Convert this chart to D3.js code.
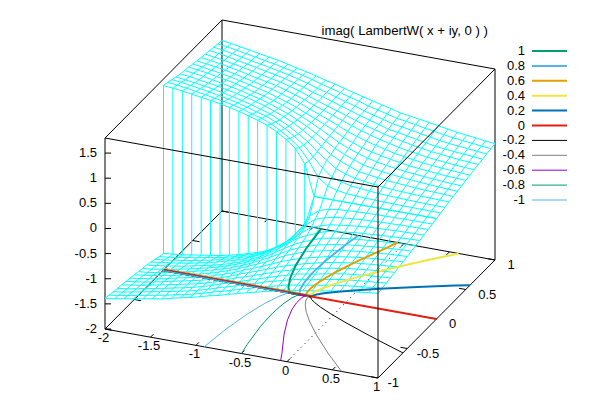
<!DOCTYPE html>
<html>
<head>
<meta charset="utf-8">
<script src="https://cdnjs.cloudflare.com/ajax/libs/d3/7.8.5/d3.min.js"></script>
<style>
  html, body { margin: 0; padding: 0; background: #fff; }
  text { font-family: "Liberation Sans", Arial, sans-serif; font-size: 13px; fill: #000; }
  .mesh { fill: none; stroke: #00ffff; stroke-width: 1; }
  .edge, .tick { fill: none; stroke: #000; stroke-width: 1; }
  .zero { fill: none; stroke: #000; stroke-width: 1; stroke-dasharray: 1 4; }
  .contour { fill: none; stroke-linejoin: round; }
</style>
</head>
<body>
<div id="chart"></div>
<script>
var xValues = [-2,-1.897,-1.793,-1.69,-1.586,-1.483,-1.379,-1.276,-1.172,-1.069,-0.966,-0.862,-0.759,-0.655,-0.552,-0.448,-0.345,-0.241,-0.138,-0.034,0.069,0.172,0.276,0.379,0.483,0.586,0.69,0.793,0.897,1]
// y = 0 is there twice, the sheet jumps between the two rows left of the branch point
var yValues = [-1,-0.929,-0.857,-0.786,-0.714,-0.643,-0.571,-0.5,-0.429,-0.357,-0.286,-0.214,-0.143,-0.071,0,0,0.071,0.143,0.214,0.286,0.357,0.429,0.5,0.571,0.643,0.714,0.786,0.857,0.929,1]

var zRows = [
  [-1.39,-1.365,-1.33,-1.3,-1.265,-1.23,-1.2,-1.155,-1.11,-1.07,-1.025,-0.97,-0.93,-0.875,-0.825,-0.775,-0.73,-0.68,-0.64,-0.585,-0.56,-0.53,-0.5,-0.47,-0.435,-0.405,-0.38,-0.36,-0.335,-0.315],
  [-1.408,-1.383,-1.348,-1.314,-1.279,-1.244,-1.211,-1.166,-1.131,-1.084,-1.036,-0.977,-0.93,-0.875,-0.821,-0.771,-0.709,-0.662,-0.619,-0.567,-0.538,-0.509,-0.471,-0.441,-0.406,-0.38,-0.359,-0.339,-0.317,-0.297],
  [-1.426,-1.4,-1.365,-1.328,-1.293,-1.258,-1.221,-1.181,-1.144,-1.094,-1.044,-0.98,-0.93,-0.873,-0.816,-0.762,-0.696,-0.646,-0.597,-0.543,-0.513,-0.483,-0.443,-0.411,-0.376,-0.353,-0.333,-0.315,-0.297,-0.277],
  [-1.443,-1.418,-1.384,-1.344,-1.309,-1.273,-1.233,-1.197,-1.153,-1.103,-1.051,-0.981,-0.929,-0.869,-0.809,-0.748,-0.687,-0.631,-0.576,-0.517,-0.486,-0.454,-0.414,-0.38,-0.346,-0.326,-0.306,-0.29,-0.275,-0.256],
  [-1.457,-1.428,-1.401,-1.361,-1.326,-1.287,-1.247,-1.207,-1.167,-1.117,-1.059,-0.989,-0.921,-0.861,-0.801,-0.737,-0.673,-0.609,-0.559,-0.503,-0.464,-0.426,-0.386,-0.355,-0.324,-0.304,-0.284,-0.265,-0.25,-0.234],
  [-1.471,-1.445,-1.419,-1.382,-1.344,-1.301,-1.261,-1.221,-1.181,-1.126,-1.066,-1.001,-0.926,-0.86,-0.794,-0.724,-0.653,-0.588,-0.535,-0.48,-0.437,-0.391,-0.357,-0.327,-0.297,-0.277,-0.257,-0.243,-0.228,-0.213],
  [-1.49,-1.465,-1.437,-1.404,-1.365,-1.32,-1.28,-1.237,-1.196,-1.136,-1.076,-1.013,-0.933,-0.86,-0.787,-0.708,-0.626,-0.559,-0.5,-0.447,-0.403,-0.356,-0.326,-0.296,-0.269,-0.249,-0.23,-0.219,-0.205,-0.191],
  [-1.51,-1.485,-1.455,-1.425,-1.39,-1.345,-1.3,-1.255,-1.21,-1.15,-1.09,-1.02,-0.94,-0.86,-0.78,-0.69,-0.59,-0.52,-0.45,-0.4,-0.36,-0.32,-0.29,-0.26,-0.24,-0.22,-0.205,-0.19,-0.18,-0.17],
  [-1.53,-1.51,-1.48,-1.445,-1.41,-1.37,-1.32,-1.27,-1.228,-1.17,-1.11,-1.035,-0.955,-0.865,-0.77,-0.67,-0.57,-0.485,-0.42,-0.36,-0.32,-0.285,-0.255,-0.23,-0.215,-0.195,-0.18,-0.165,-0.155,-0.145],
  [-1.55,-1.53,-1.5,-1.465,-1.43,-1.39,-1.35,-1.3,-1.255,-1.195,-1.13,-1.06,-0.97,-0.875,-0.77,-0.65,-0.54,-0.45,-0.38,-0.31,-0.275,-0.245,-0.22,-0.2,-0.185,-0.167,-0.154,-0.141,-0.132,-0.123],
  [-1.565,-1.545,-1.515,-1.485,-1.455,-1.415,-1.375,-1.335,-1.285,-1.23,-1.16,-1.085,-0.995,-0.885,-0.77,-0.63,-0.5,-0.405,-0.33,-0.26,-0.23,-0.205,-0.18,-0.165,-0.152,-0.138,-0.127,-0.118,-0.111,-0.103],
  [-1.59,-1.565,-1.54,-1.51,-1.48,-1.44,-1.4,-1.355,-1.305,-1.25,-1.19,-1.105,-1.015,-0.895,-0.77,-0.61,-0.47,-0.335,-0.265,-0.21,-0.185,-0.16,-0.138,-0.123,-0.113,-0.103,-0.094,-0.088,-0.083,-0.077],
  [-1.62,-1.6,-1.57,-1.54,-1.51,-1.47,-1.435,-1.39,-1.34,-1.28,-1.23,-1.15,-1.05,-0.93,-0.79,-0.59,-0.4,-0.25,-0.19,-0.145,-0.125,-0.107,-0.093,-0.083,-0.075,-0.069,-0.063,-0.059,-0.055,-0.051],
  [-1.65,-1.63,-1.6,-1.57,-1.54,-1.5,-1.47,-1.43,-1.38,-1.32,-1.27,-1.19,-1.09,-0.97,-0.82,-0.59,-0.3,-0.16,-0.105,-0.076,-0.063,-0.053,-0.046,-0.041,-0.038,-0.034,-0.031,-0.029,-0.028,-0.026],
  [-1.67,-1.65,-1.63,-1.6,-1.57,-1.54,-1.51,-1.47,-1.425,-1.37,-1.315,-1.25,-1.155,-1.04,-0.89,-0.62,0,0,0,0,0,0,0,0,0,0,0,0,0,0],
  [1.67,1.65,1.63,1.6,1.57,1.54,1.51,1.47,1.425,1.37,1.315,1.25,1.155,1.04,0.89,0.62,0,0,0,0,0,0,0,0,0,0,0,0,0,0],
  [1.65,1.63,1.6,1.57,1.54,1.5,1.47,1.43,1.38,1.32,1.27,1.19,1.09,0.97,0.82,0.59,0.3,0.16,0.105,0.076,0.063,0.053,0.046,0.041,0.038,0.034,0.031,0.029,0.028,0.026],
  [1.62,1.6,1.57,1.54,1.51,1.47,1.435,1.39,1.34,1.28,1.23,1.15,1.05,0.93,0.79,0.59,0.4,0.25,0.19,0.145,0.125,0.107,0.093,0.083,0.075,0.069,0.063,0.059,0.055,0.051],
  [1.59,1.565,1.54,1.51,1.48,1.44,1.4,1.355,1.305,1.25,1.19,1.105,1.015,0.895,0.77,0.61,0.47,0.335,0.265,0.21,0.185,0.16,0.138,0.123,0.113,0.103,0.094,0.088,0.083,0.077],
  [1.565,1.545,1.515,1.485,1.455,1.415,1.375,1.335,1.285,1.23,1.16,1.085,0.995,0.885,0.77,0.63,0.5,0.405,0.33,0.26,0.23,0.205,0.18,0.165,0.152,0.138,0.127,0.118,0.111,0.103],
  [1.55,1.53,1.5,1.465,1.43,1.39,1.35,1.3,1.255,1.195,1.13,1.06,0.97,0.875,0.77,0.65,0.54,0.45,0.38,0.31,0.275,0.245,0.22,0.2,0.185,0.167,0.154,0.141,0.132,0.123],
  [1.53,1.51,1.48,1.445,1.41,1.37,1.32,1.27,1.228,1.17,1.11,1.035,0.955,0.865,0.77,0.67,0.57,0.485,0.42,0.36,0.32,0.285,0.255,0.23,0.215,0.195,0.18,0.165,0.155,0.145],
  [1.51,1.485,1.455,1.425,1.39,1.345,1.3,1.255,1.21,1.15,1.09,1.02,0.94,0.86,0.78,0.69,0.59,0.52,0.45,0.4,0.36,0.32,0.29,0.26,0.24,0.22,0.205,0.19,0.18,0.17],
  [1.49,1.465,1.437,1.404,1.365,1.32,1.28,1.237,1.196,1.136,1.076,1.013,0.933,0.86,0.787,0.708,0.626,0.559,0.5,0.447,0.403,0.356,0.326,0.296,0.269,0.249,0.23,0.219,0.205,0.191],
  [1.471,1.445,1.419,1.382,1.344,1.301,1.261,1.221,1.181,1.126,1.066,1.001,0.926,0.86,0.794,0.724,0.653,0.588,0.535,0.48,0.437,0.391,0.357,0.327,0.297,0.277,0.257,0.243,0.228,0.213],
  [1.457,1.428,1.401,1.361,1.326,1.287,1.247,1.207,1.167,1.117,1.059,0.989,0.921,0.861,0.801,0.737,0.673,0.609,0.559,0.503,0.464,0.426,0.386,0.355,0.324,0.304,0.284,0.265,0.25,0.234],
  [1.443,1.418,1.384,1.344,1.309,1.273,1.233,1.197,1.153,1.103,1.051,0.981,0.929,0.869,0.809,0.748,0.687,0.631,0.576,0.517,0.486,0.454,0.414,0.38,0.346,0.326,0.306,0.29,0.275,0.256],
  [1.426,1.4,1.365,1.328,1.293,1.258,1.221,1.181,1.144,1.094,1.044,0.98,0.93,0.873,0.816,0.762,0.696,0.646,0.597,0.543,0.513,0.483,0.443,0.411,0.376,0.353,0.333,0.315,0.297,0.277],
  [1.408,1.383,1.348,1.314,1.279,1.244,1.211,1.166,1.131,1.084,1.036,0.977,0.93,0.875,0.821,0.771,0.709,0.662,0.619,0.567,0.538,0.509,0.471,0.441,0.406,0.38,0.359,0.339,0.317,0.297],
  [1.39,1.365,1.33,1.3,1.265,1.23,1.2,1.155,1.11,1.07,1.025,0.97,0.93,0.875,0.825,0.775,0.73,0.68,0.64,0.585,0.56,0.53,0.5,0.47,0.435,0.405,0.38,0.36,0.335,0.315]
]

// contours on the base plane, [x, y]. the stretch along the cut is nudged off y = 0
// so the colours show on either side of the red one, as they do in the picture
var contourP10 = [[-2,0.012],[-0.625,0.012],[-0.674,0.073],[-0.744,0.213],[-0.81,0.413],[-0.87,0.69],[-0.91,1]]
var contourP08 = [[-2,0.012],[-0.513,0.012],[-0.545,0.07],[-0.571,0.181],[-0.584,0.339],[-0.574,0.557],[-0.531,0.855],[-0.5,1]]
var contourP06 = [[-2,0.012],[-0.442,0.012],[-0.455,0.05],[-0.456,0.129],[-0.435,0.242],[-0.382,0.397],[-0.283,0.609],[-0.123,0.896],[-0.07,1]]
var contourP04 = [[-2,0.012],[-0.399,0.012],[-0.401,0.026],[-0.389,0.074],[-0.351,0.142],[-0.278,0.238],[-0.156,0.368],[0.034,0.545],[0.316,0.782],[0.6,1]]
var contourP02 = [[-2,0.004],[-0.375,0.004],[-0.37,0.017],[-0.345,0.042],[-0.289,0.078],[-0.193,0.128],[-0.04,0.196],[0.19,0.288],[0.525,0.411],[0.865,0.529],[1,0.574]]
var contourZero = [[-2,0],[1,0]]
var contourN02 = [[-2,-0.01],[-0.375,-0.01],[-0.37,-0.017],[-0.345,-0.042],[-0.289,-0.078],[-0.193,-0.128],[-0.04,-0.196],[0.19,-0.288],[0.525,-0.411],[0.865,-0.529],[1,-0.574]]
var contourN04 = [[-2,-0.01],[-0.399,-0.01],[-0.401,-0.026],[-0.389,-0.074],[-0.351,-0.142],[-0.278,-0.238],[-0.156,-0.368],[0.034,-0.545],[0.316,-0.782],[0.6,-1]]
var contourN06 = [[-2,-0.01],[-0.442,-0.01],[-0.455,-0.05],[-0.456,-0.129],[-0.435,-0.242],[-0.382,-0.397],[-0.283,-0.609],[-0.123,-0.896],[-0.07,-1]]
var contourN08 = [[-2,-0.01],[-0.513,-0.01],[-0.545,-0.07],[-0.571,-0.181],[-0.584,-0.339],[-0.574,-0.557],[-0.531,-0.855],[-0.5,-1]]
var contourN10 = [[-2,-0.01],[-0.625,-0.01],[-0.674,-0.073],[-0.744,-0.213],[-0.81,-0.413],[-0.87,-0.69],[-0.91,-1]]

var levelLabels = ["1","0.8","0.6","0.4","0.2","0","-0.2","-0.4","-0.6","-0.8","-1"]
var levelColors = ["#009e73","#56b4e9","#e69f00","#f0e442","#0072b2","#e51e10","#000000","#808080","#9400d3","#009e73","#56b4e9"]
var levelWidths = [2,2,2,2,2,2,1,1,1,1,1]
var contours = [contourP10,contourP08,contourP06,contourP04,contourP02,contourZero,contourN02,contourN04,contourN06,contourN08,contourN10]

var xTicks = [-2,-1.5,-1,-0.5,0,0.5,1]
var yTicks = [-1,-0.5,0,0.5,1]
var zTicks = [-2,-1.5,-1,-0.5,0,0.5,1,1.5]
var titleText = "imag( LambertW( x + iy, 0 ) )"

var width = 600, height = 400
var originX = 105, originY = 329

// gnuplot view is a plain parallel projection, so each axis only adds a screen offset
var xToH = d3.scaleLinear().domain([-2, 1]).range([0, 273])
var xToV = d3.scaleLinear().domain([-2, 1]).range([0, 49])
var yToH = d3.scaleLinear().domain([-1, 1]).range([0, 117])
var yToV = d3.scaleLinear().domain([-1, 1]).range([0, -118])
var zToV = d3.scaleLinear().domain([-2, 1.8]).range([0, -191])

function project(x, y, z) {
    return [originX + xToH(x) + yToH(y), originY + xToV(x) + yToV(y) + zToV(z)]
}

var line = d3.line()

var svg = d3.select("#chart").append("svg")
    .attr("width", width)
    .attr("height", height)
    .style("display", "block")

function edge(g, a, b) {
    g.append("path").attr("class", "edge")
        .attr("d", line([project(a[0], a[1], a[2]), project(b[0], b[1], b[2])]))
}

var zTop = 1.8, zBot = -2

var back = svg.append("g")
edge(back, [-2,-1,zBot], [1,-1,zBot])
edge(back, [1,-1,zBot], [1,1,zBot])
edge(back, [1,1,zBot], [-2,1,zBot])
edge(back, [-2,1,zBot], [-2,-1,zBot])
edge(back, [-2,1,zBot], [-2,1,zTop])
edge(back, [-2,1,zTop], [1,1,zTop])
edge(back, [-2,1,zTop], [-2,-1,zTop])
edge(back, [-2,-1,zBot], [-2,-1,zTop])
edge(back, [1,1,zBot], [1,1,zTop])

back.append("path").attr("class", "zero")
    .attr("d", line([project(0,-1,zBot), project(0,1,zBot)]))
back.append("path").attr("class", "zero")
    .attr("d", line([project(-2,0,zBot), project(1,0,zBot)]))

// ticks, mirrored on the far edges
var ticks = svg.append("g")
xTicks.forEach(function(t) {
    ticks.append("path").attr("class", "tick").attr("d", line([project(t,-1,zBot), project(t,-0.95,zBot)]))
    ticks.append("path").attr("class", "tick").attr("d", line([project(t,1,zBot), project(t,0.95,zBot)]))
})
yTicks.forEach(function(t) {
    ticks.append("path").attr("class", "tick").attr("d", line([project(1,t,zBot), project(0.925,t,zBot)]))
    ticks.append("path").attr("class", "tick").attr("d", line([project(-2,t,zBot), project(-1.925,t,zBot)]))
})
zTicks.forEach(function(t) {
    var p = project(-2,-1,t)
    ticks.append("path").attr("class", "tick").attr("d", line([p, [p[0] + 6, p[1]]]))
})

// surface mesh
var mesh = svg.append("g")

mesh.selectAll("path.row").data(zRows).enter().append("path")
    .attr("class", "mesh row")
    .attr("d", function(row, r) {
        return line(row.map(function(z, c) { return project(xValues[c], yValues[r], z) }))
    })

mesh.selectAll("path.col").data(xValues).enter().append("path")
    .attr("class", "mesh col")
    .attr("d", function(x, c) {
        return line(zRows.map(function(row, r) { return project(x, yValues[r], row[c]) }))
    })

// base contours
svg.append("g").selectAll("path").data(contours).enter().append("path")
    .attr("class", "contour")
    .attr("stroke", function(d, i) { return levelColors[i] })
    .attr("stroke-width", function(d, i) { return levelWidths[i] })
    .attr("d", function(d) {
        return line(d.map(function(p) { return project(p[0], p[1], zBot) }))
    })

var front = svg.append("g")
edge(front, [-2,-1,zTop], [1,-1,zTop])
edge(front, [1,-1,zTop], [1,1,zTop])
edge(front, [1,-1,zBot], [1,-1,zTop])

// tick labels
var labels = svg.append("g")
zTicks.forEach(function(t) {
    var p = project(-2,-1,t)
    labels.append("text").attr("x", p[0] - 8).attr("y", p[1] + 4)
        .attr("text-anchor", "end").text(t)
})
xTicks.forEach(function(t) {
    var p = project(t,-1,zBot)
    labels.append("text").attr("x", p[0] - 1.5).attr("y", p[1] + 13)
        .attr("text-anchor", "middle").text(t)
})
yTicks.forEach(function(t) {
    var p = project(1,t,zBot)
    labels.append("text").attr("x", p[0] + (t < 0 ? 9.5 : 12.5)).attr("y", p[1] + 9)
        .attr("text-anchor", "start").text(t)
})

labels.append("text").attr("x", 488).attr("y", 35)
    .style("font-size", "13.2px")
    .attr("text-anchor", "end").text(titleText)

// legend
var legendY = d3.scalePoint().domain(levelLabels).range([51, 200])

var legend = svg.append("g").selectAll("g").data(levelLabels).enter().append("g")
    .attr("transform", function(d) { return "translate(0," + legendY(d) + ")" })

legend.append("text").attr("x", 525).attr("y", 4).attr("text-anchor", "end").text(function(d) { return d })

legend.append("line")
    .attr("x1", 532).attr("x2", 567)
    .attr("stroke", function(d, i) { return levelColors[i] })
    .attr("stroke-width", function(d, i) { return levelWidths[i] })
</script>
</body>
</html>
